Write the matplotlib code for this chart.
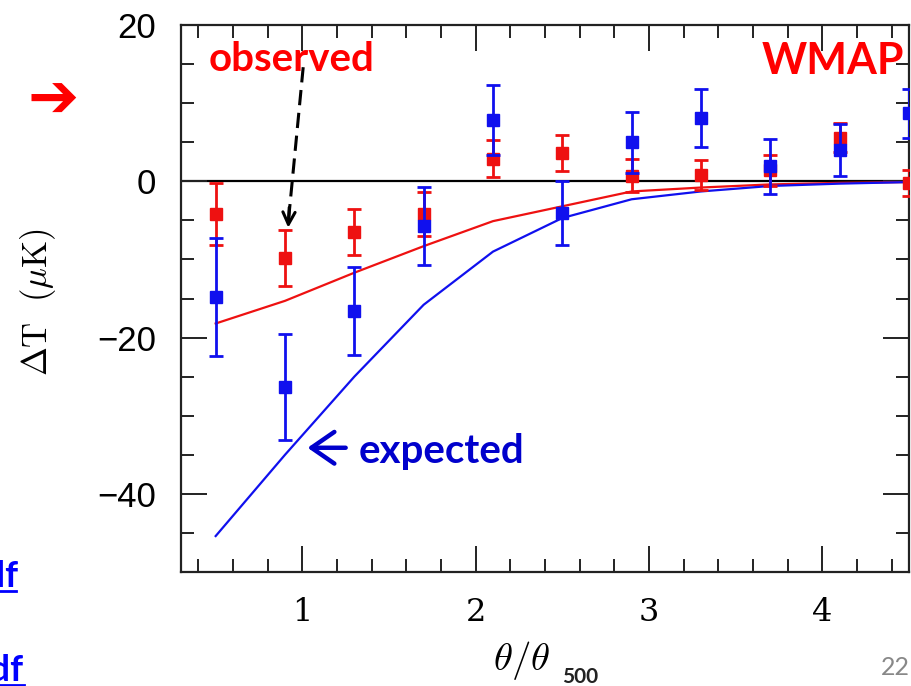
# encoding: UTF-8
import numpy as np
import matplotlib
matplotlib.use('Agg')
import matplotlib.pyplot as plt
from matplotlib.ticker import MultipleLocator

# -----------------------------------------------------------------------------
theta = [0.5, 0.9, 1.3, 1.7, 2.1, 2.5, 2.9, 3.3, 3.7, 4.1, 4.5]

obs_dt = [-4.2, -9.8, -6.5, -4.2, 2.9, 3.6, 0.7, 0.8, 1.4, 5.6, -0.2]
obs_err = [4.0, 3.6, 2.9, 2.8, 2.4, 2.3, 2.1, 1.9, 2.0, 1.8, 1.7]

exp_dt = [-14.8, -26.3, -16.6, -5.7, 7.8, -4.0, 5.0, 8.1, 1.9, 4.0, 8.7]
exp_err = [7.6, 6.8, 5.6, 5.0, 4.5, 4.1, 3.9, 3.7, 3.5, 3.3, 3.1]

model_obs = [-18.2, -15.3, -11.7, -8.3, -5.1, -3.2, -1.3, -0.8, -0.4, -0.2, -0.1]
model_exp = [-45.4, -35.0, -25.0, -15.8, -9.0, -4.7, -2.3, -1.3, -0.6, -0.3, -0.1]

xticks = [1, 2, 3, 4]
yticks = [-40, -20, 0, 20]

RED = '#ee1111'
BLUE = '#1010ee'
SANS = ['Lato', 'DejaVu Sans']

# -----------------------------------------------------------------------------
fig = plt.figure(figsize=(9.12, 6.86), dpi=100)
W, H = 912.0, 686.0
ax = fig.add_axes([181 / W, 1 - 572 / H, (909 - 181) / W, (572 - 25) / H])

ax.axhline(0, color='black', lw=1.6, zorder=1)
ax.plot(theta, model_obs, color=RED, lw=1.6, zorder=2)
ax.plot(theta, model_exp, color=BLUE, lw=1.6, zorder=2)
ax.errorbar(theta, obs_dt, yerr=obs_err, fmt='s', color=RED, ms=8, lw=2,
            capsize=5, capthick=2, zorder=3)
ax.errorbar(theta, exp_dt, yerr=exp_err, fmt='s', color=BLUE, ms=8, lw=2,
            capsize=5, capthick=2, zorder=4)

ax.set_xlim(0.3, 4.5)
ax.set_ylim(-50, 20)
ax.set_xticks(xticks)
ax.set_yticks(yticks)
ax.xaxis.set_minor_locator(MultipleLocator(0.2))
ax.yaxis.set_minor_locator(MultipleLocator(5))
ax.tick_params(which='both', direction='in', top=True, right=True, width=1.4, color='#222222')
ax.tick_params(which='major', length=19)
ax.tick_params(which='minor', length=9.5)
ax.tick_params(axis='x', pad=18)
ax.tick_params(axis='y', pad=18)
for sp in ax.spines.values():
    sp.set_linewidth(1.6)
    sp.set_color('#222222')

for lab in ax.get_xticklabels():
    lab.set_fontfamily('DejaVu Serif')
    lab.set_fontsize(23)
for lab in ax.get_yticklabels():
    lab.set_fontfamily('Liberation Sans')
    lab.set_fontsize(25)

# axis labels
plt.rcParams['mathtext.fontset'] = 'cm'
fig.text(38 / W, 1 - 302 / H, r'$\Delta\mathrm{T}\ \ (\mu\mathrm{K})$', rotation=90,
         ha='center', va='center', fontsize=25)
fig.text(522 / W, 1 - 660 / H, r'$\theta/\theta$', ha='center', va='center', fontsize=28)
fig.text(580 / W, 1 - 677 / H, '500', ha='center', va='center', fontsize=15,
         fontweight='bold', family=SANS, color='#222222')

# annotations
ax.text(0.462, 14.1, 'observed', color='red', fontsize=29, fontweight='bold',
        family=SANS, ha='left', va='baseline')
ax.text(4.47, 13.7, 'WMAP', color='red', fontsize=31, fontweight='bold',
        family=SANS, ha='right', va='baseline')
ax.text(1.323, -36.0, 'expected', color='#0000cc', fontsize=29, fontweight='bold',
        family=SANS, ha='left', va='baseline')
ax.annotate('', xy=(1.03, -34.1), xytext=(1.25, -34.1),
            arrowprops=dict(arrowstyle='->,head_length=0.55,head_width=0.38',
                            color='#0000cc', lw=3.2, mutation_scale=30,
                            shrinkA=0, shrinkB=0))

ax.plot([1.005, 0.92], [14.6, -5.0], color='black', lw=2.2, ls=(0, (5, 2.5)), zorder=5)
ax.annotate('', xy=(0.918, -6.3), xytext=(0.925, -3.0),
            arrowprops=dict(arrowstyle='->', color='black', lw=2.2,
                            mutation_scale=22), zorder=5)

# slide fragments around the chart
fig.text(53 / W, 1 - 101 / H, '\u2794', color='red', fontsize=44,
         family=['DejaVu Sans'], ha='center', va='center')
fig.text(19 / W, 1 - 587 / H, 'pdf', color='#0000ff', fontsize=26, fontweight='bold',
         family=SANS, ha='right', va='baseline')
fig.text(24 / W, 1 - 681 / H, 'pdf', color='#0000ff', fontsize=26, fontweight='bold',
         family=SANS, ha='right', va='baseline')
fig.add_artist(plt.Line2D([0, 16 / W], [1 - 591 / H] * 2, color='#0000ff', lw=2))
fig.add_artist(plt.Line2D([0, 24 / W], [1 - 685 / H] * 2, color='#0000ff', lw=2))
fig.text(910 / W, 1 - 675 / H, '22', color='#888888', fontsize=18,
         family=SANS, ha='right', va='baseline')

fig.savefig('out.png', dpi=100)
